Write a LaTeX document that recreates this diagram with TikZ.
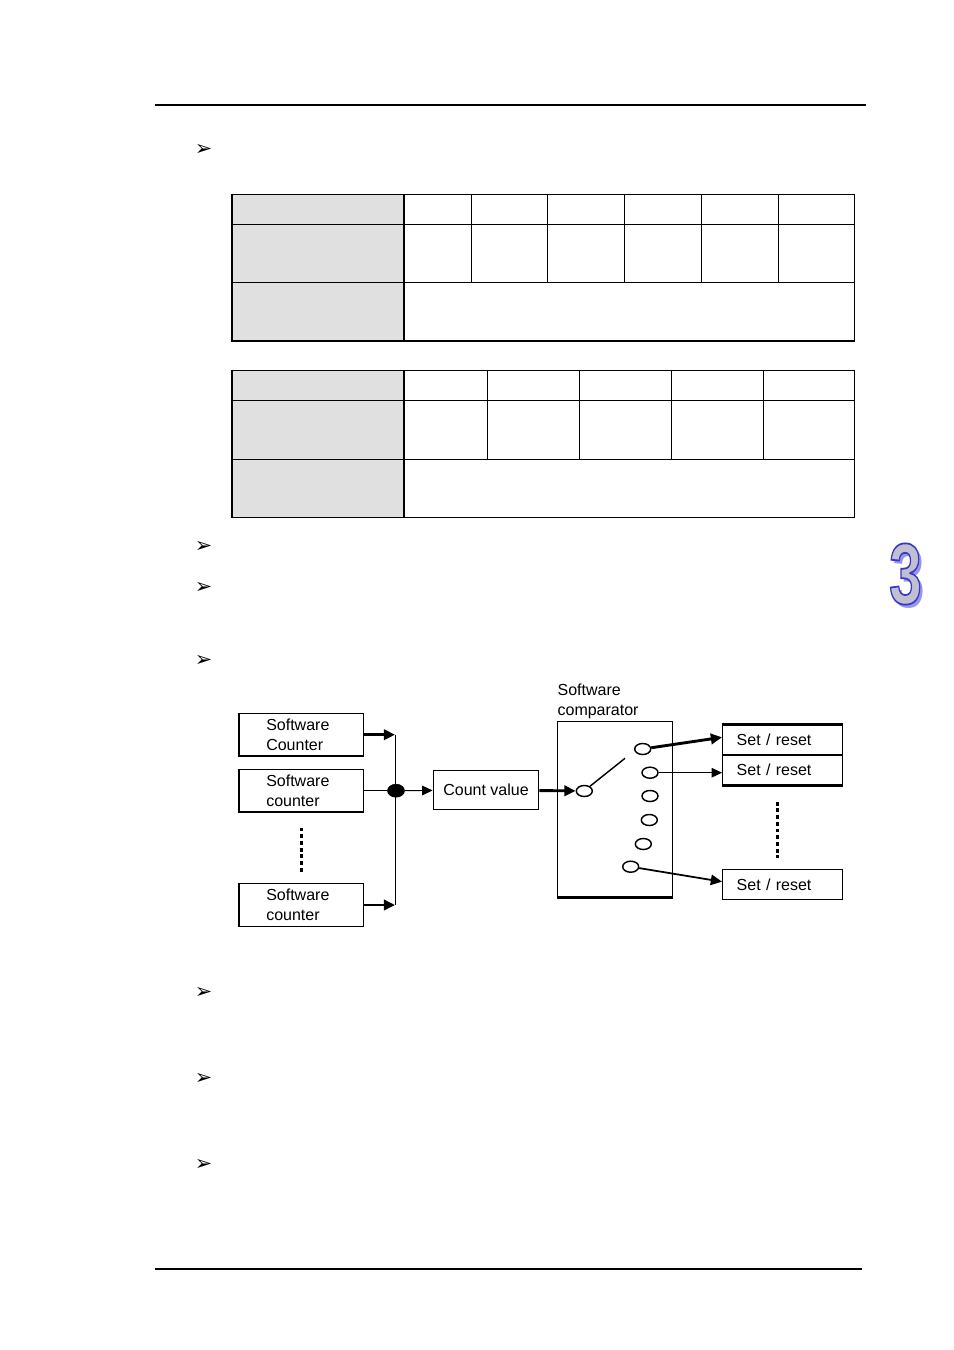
\documentclass[tikz,border=0pt]{standalone}
\usepackage{fontspec}
\setmainfont{Liberation Sans}
\newfontfamily\dingfont{DejaVu Sans}
\usepackage{graphicx}
\usetikzlibrary{arrows.meta,positioning,calc,shapes.geometric}
\definecolor{cellgray}{RGB}{224,224,224}
\definecolor{chapshade}{RGB}{150,150,235}
\definecolor{chapfill}{RGB}{192,192,208}
% outlined digit: gray fill, blue stroke
\newcommand{\chapdigit}{\scalebox{0.68}[1]{\fontsize{54}{54}\selectfont\bfseries
    \special{pdf:literal direct 0.216 0.216 0.784 RG 1.1 w 2 Tr}3\special{pdf:literal direct 0 Tr}}}
\newcommand{\chapshadow}{\scalebox{0.68}[1]{\fontsize{54}{54}\selectfont\bfseries 3}}

\begin{document}
\begin{tikzpicture}[x=0.625pt, y=-0.625pt,
    every node/.style={font=\fontsize{10}{12.5}\selectfont},
    tabline/.style={line width=0.9pt},
    swbox/.style={draw, line width=0.9pt, inner xsep=17pt, inner ysep=0pt,
        text width=43.9pt, align=left, minimum height=26.8pt},
    valbox/.style={draw, line width=0.9pt, minimum width=65.9pt, minimum height=24.1pt},
    setbox/.style={draw, line width=0.9pt, inner xsep=8.75pt, inner ysep=0pt,
        text width=57.2pt, align=left, minimum height=18.8pt},
    contact/.style={draw, ellipse, line width=0.9pt, inner sep=0pt,
        minimum width=10pt, minimum height=6.9pt},
    thickarr/.style={line width=1.8pt, -{Triangle[length=7pt,width=6.5pt]}},
    thinarr/.style={line width=0.6pt, -{Triangle[length=6.5pt,width=6pt]}},
    dotline/.style={line width=2pt, dash pattern=on 2.4pt off 1.8pt},
    bullet/.style={font=\dingfont\fontsize{13}{13}\selectfont, inner sep=0pt}]
    \useasboundingbox (0,0) rectangle (954,1350);
    % page rules
    \draw[line width=0.8pt] (155,105) -- (866,105);
    \draw[line width=0.8pt] (155,1269) -- (862,1269);
    % bullets
    \foreach \y [count=\i] in {150,546.7,588.3,661,993.3,1079,1165}
        \node[bullet] (bul\i) at (203.5,\y) {➢};
    % first table
    \fill[cellgray] (232,194.3) rectangle (404,341);
    \draw[tabline] (232,194.3) rectangle (854.3,341);
    \draw[tabline] (232,224.3) -- (854.3,224.3);
    \draw[tabline] (232,282.3) -- (854.3,282.3);
    \draw[tabline] (404,194.3) -- (404,341);
    \foreach \x in {471.7,547.3,624.7,701.3,778.7}
        \draw[tabline] (\x,194.3) -- (\x,282.3);
    % second table
    \fill[cellgray] (232,370.3) rectangle (404,517.3);
    \draw[tabline] (232,370.3) rectangle (854.3,517.3);
    \draw[tabline] (232,400.3) -- (854.3,400.3);
    \draw[tabline] (232,459.3) -- (854.3,459.3);
    \draw[tabline] (404,370.3) -- (404,517.3);
    \foreach \x in {487.3,579.3,671.7,763.3}
        \draw[tabline] (\x,370.3) -- (\x,459.3);
    % chapter tab
    \node[text=chapshade, inner sep=0pt] (chapshd) at (908.5,578) {\chapshadow};
    \node[text=chapfill, inner sep=0pt] (chap) at (905.5,574) {\chapdigit};
    % counters
    \node[swbox] (swcA) at (301.4,734.7) {Software\\Counter};
    \node[swbox] (swcB) at (301.4,790.7) {Software\\counter};
    \node[swbox] (swcN) at (301.4,905) {Software\\counter};
    \draw[dotline] ($(swcB.south)+(0,14.7)$) -- ($(swcN.north)+(0,-10)$);
    \coordinate (busTop) at (395,734.7);
    \coordinate (busBot) at (395,905);
    \node[draw, fill, ellipse, inner sep=0pt, minimum width=10.6pt,
        minimum height=8.1pt] (bus) at (396,790.7) {};
    \draw[line width=0.6pt] (busTop) -- (busBot);
    \draw[thickarr] (swcA.east) -- (busTop);
    \draw[thickarr] (swcN.east) -- (busBot);
    \draw[line width=0.6pt] (swcB.east) -- (bus);
    \node[valbox] (cntval) at (486,790) {Count value};
    \draw[thinarr] (bus) -- (cntval);
    % comparator
    \node[draw, line width=0.9pt, minimum width=72.1pt, minimum height=109.4pt]
        (cmp) at (615,809.2) {};
    \draw[line width=1.8pt] (cmp.south west) -- (cmp.south east);
    \node[anchor=north west, inner sep=0pt, align=left] (cmplbl) at (557.3,684)
        {Software\\comparator};
    \node[contact] (sw0) at (584.3,791) {};
    \coordinate (swtip) at (625,758.3);
    \draw[thickarr] (cntval) -- (sw0);
    \draw[line width=0.9pt] (sw0.40) -- (swtip);
    \node[contact] (ct1) at (642.7,749) {};
    \node[contact] (ct2) at (650,772.7) {};
    \node[contact] (ct3) at (650,796) {};
    \node[contact] (ct4) at (649.3,820) {};
    \node[contact] (ct5) at (643.3,844) {};
    \node[contact] (ct6) at (630.7,866.7) {};
    % outputs
    \node[setbox] (set1) at (782.5,740) {Set / reset};
    \node[setbox] (set2) at (782.5,770) {Set / reset};
    \node[setbox] (setn) at (782.5,884.7) {Set / reset};
    \draw[line width=1.6pt] (set1.north west) -- (set1.north east);
    \draw[line width=1.6pt] (set2.south west) -- (set2.south east);
    \draw[dotline] (777.3,801.7) -- (777.3,858.3);
    \draw[thickarr] (ct1) -- ($(set1.west)+(0,-2.7)$);
    \draw[thinarr] (ct2) -- (ct2 -| set2.west);
    \draw[line width=1.1pt, -{Triangle[length=7pt,width=6.5pt]}] (ct6) -- ($(setn.west)+(0,-3)$);
\end{tikzpicture}
\end{document}
